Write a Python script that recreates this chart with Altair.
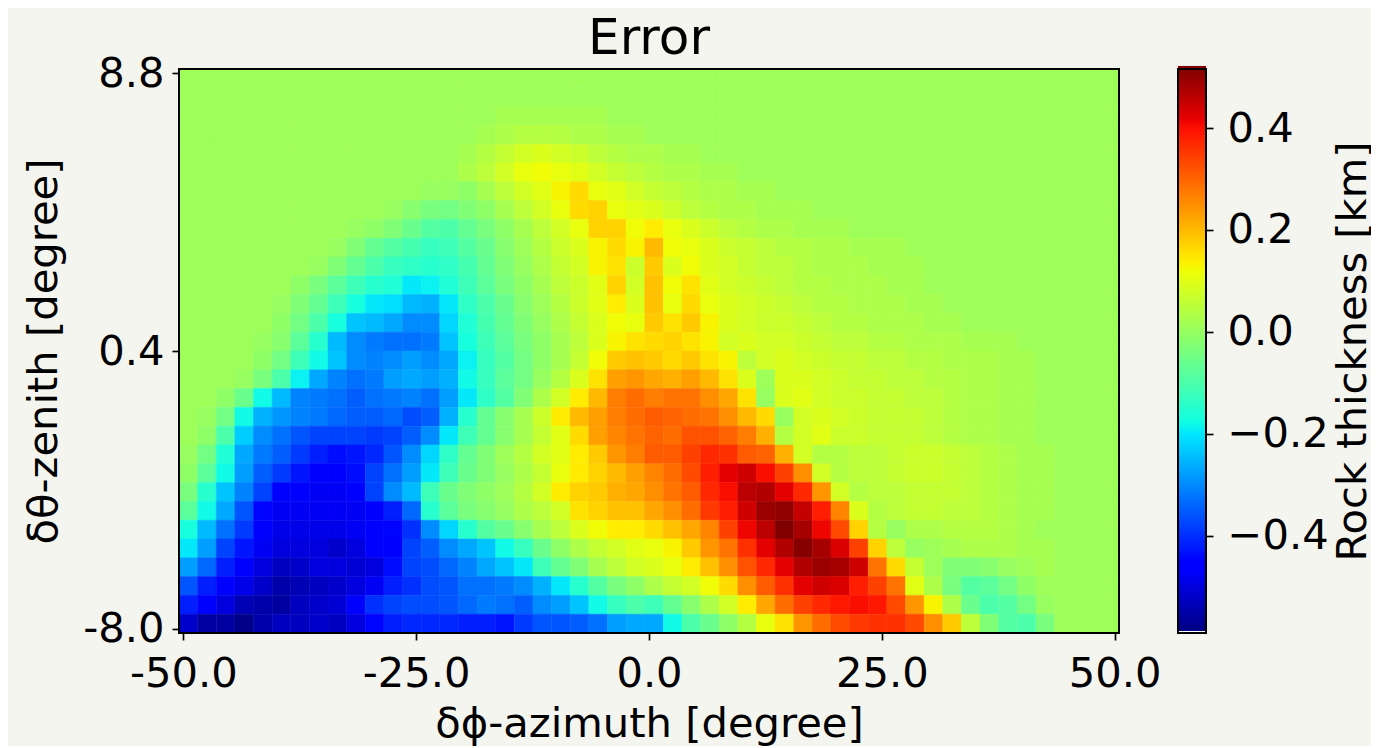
import altair as alt
import numpy as np
import pandas as pd

# Values, in hundredths of a km, top row first, one entry per two degrees
row_00 = [1,1,1,1,1,1,1,1,1,1, 1,1,1,1,1,1,1,1,1,1, 1,1,1,1,1,1,1,1,1,1, 1,1,1,1,1,1,1,1,1,1, 1,1,1,1,1,1,1,1,1,1,1]
row_01 = [1,1,1,1,1,1,1,1,1,1, 1,1,1,1,1,1,1,1,1,1, 1,1,1,1,1,1,1,1,1,1, 1,1,1,1,1,1,1,1,1,1, 1,1,1,1,1,1,1,1,1,1,1]
row_02 = [1,1,1,1,1,1,1,1,1,1, 1,1,1,1,1,1,1,2,2,2, 2,2,2,1,1,1,1,1,1,1, 1,1,1,1,1,1,1,1,1,1, 1,1,1,1,1,1,1,1,1,1,1]
row_03 = [1,1,1,1,1,1,1,1,1,1, 1,1,1,1,1,1,2,3,4,4, 4,3,3,2,2,1,1,1,1,1, 1,1,1,1,1,1,1,1,1,1, 1,1,1,1,1,1,1,1,1,1,1]
row_04 = [1,1,1,1,1,1,1,1,1,1, 1,1,1,1,1,2,4,6,8,9, 8,7,5,4,3,3,2,2,1,1, 1,1,1,1,1,1,1,1,1,1, 1,1,1,1,1,1,1,1,1,1,1]
row_05 = [1,1,1,1,1,1,1,1,1,1, 1,1,1,1,1,3,5,8,11,12, 11,10,8,6,5,4,3,3,2,2, 1,1,1,1,1,1,1,1,1,1, 1,1,1,1,1,1,1,1,1,1,1]
row_06 = [1,1,1,1,1,1,1,1,1,1, 1,1,1,0,0,-1,2,5,8,10, 13,16,11,10,8,6,5,4,3,3, 2,2,1,1,1,1,1,1,1,1, 1,1,1,1,1,1,1,1,1,1,1]
row_07 = [1,1,1,1,1,1,1,1,1,1, 1,0,-2,-4,-5,-3,-1,2,5,8, 11,16,17,11,10,9,7,5,4,3, 3,2,2,2,1,1,1,1,1,1, 1,1,1,1,1,1,1,1,1,1,1]
row_08 = [1,1,1,1,1,1,1,1,1,0, -1,-3,-6,-9,-10,-7,-4,-1,2,5, 8,11,17,17,12,14,11,9,7,5, 4,3,3,2,2,2,1,1,1,1, 1,1,1,1,1,1,1,1,1,1,1]
row_09 = [1,1,1,1,1,1,1,1,0,-3, -7,-9,-11,-13,-12,-9,-6,-2,1,4, 7,9,13,16,13,20,12,11,9,7, 6,5,4,4,3,3,2,2,2,1, 1,1,1,1,1,1,1,1,1,1,1]
row_10 = [1,1,1,1,1,1,1,0,-3,-7, -10,-13,-14,-15,-14,-11,-7,-3,0,3, 6,8,13,15,7,18,9,12,9,8, 6,5,5,4,3,3,3,2,2,2, 1,1,1,1,1,1,1,1,1,1,1]
row_11 = [1,1,1,1,1,1,-1,-4,-8,-12, -15,-16,-20,-19,-16,-12,-8,-4,-1,2, 5,7,10,17,8,19,12,15,10,8, 7,6,5,4,4,3,3,3,2,2, 1,1,1,1,1,1,1,1,1,1,1]
row_12 = [1,1,1,1,1,0,-3,-7,-12,-17, -20,-21,-25,-26,-20,-14,-10,-6,-2,1, 4,7,10,14,9,19,11,16,11,9, 8,7,6,5,4,4,3,3,3,2, 2,1,1,1,1,1,1,1,1,1,1]
row_13 = [1,1,1,1,1,-1,-5,-10,-17,-24, -25,-27,-30,-30,-22,-16,-11,-7,-3,0, 3,6,9,12,11,18,15,18,13,9, 8,7,7,6,5,4,4,3,3,3, 2,2,1,1,1,1,1,1,1,1,1]
row_14 = [1,1,1,1,0,-2,-8,-15,-25,-30, -32,-33,-33,-32,-24,-17,-12,-8,-4,-1, 2,5,9,13,15,16,17,15,13,8, 9,8,8,7,6,5,5,4,4,3, 3,3,2,2,2,1,1,1,1,1,1]
row_15 = [1,1,1,1,-1,-5,-12,-18,-24,-30, -31,-30,-28,-30,-27,-19,-13,-9,-5,-1, 2,6,12,18,19,18,16,18,15,13, 5,8,9,8,7,6,6,5,5,4, 4,3,3,3,2,2,1,1,1,1,1]
row_16 = [1,1,1,0,-4,-10,-19,-27,-31,-33, -32,-28,-27,-28,-26,-18,-13,-8,-5,0, 4,9,15,23,24,22,21,23,20,15, 9,1,9,9,8,7,6,6,5,5, 4,4,3,3,2,2,1,1,1,1,1]
row_17 = [1,1,-1,-6,-18,-25,-31,-32,-33,-35, -33,-32,-31,-33,-28,-20,-14,-9,-3,3, 8,14,20,27,29,27,28,28,25,22, 15,0,9,10,8,7,7,6,6,5, 5,4,3,3,2,2,1,1,1,1,1]
row_18 = [1,0,-5,-18,-26,-29,-31,-32,-34,-35, -35,-34,-37,-35,-26,-15,-7,-2,2,7, 14,20,23,27,29,31,30,29,28,25, 20,16,0,8,9,8,7,6,6,6, 5,4,3,3,2,2,1,1,1,1,1]
row_19 = [1,-1,-10,-23,-30,-33,-36,-38,-38,-38, -39,-38,-35,-30,-20,-12,-7,-2,2,6, 10,16,23,26,28,30,29,32,32,30, 27,21,4,8,10,7,7,6,6,6, 5,4,3,3,2,2,1,1,1,1,1]
row_20 = [0,-5,-16,-27,-32,-35,-39,-42,-44,-43, -41,-36,-30,-22,-14,-7,-3,1,4,8, 10,14,18,24,27,31,31,34,37,36, 31,30,21,8,4,4,5,5,6,7, 7,6,5,4,3,2,2,1,1,1,1]
row_21 = [-1,-8,-18,-28,-35,-39,-43,-46,-47,-44, -38,-33,-28,-20,-12,-6,-3,0,3,6, 11,14,17,20,23,26,29,33,38,42, 44,40,34,25,8,4,5,5,6,7, 7,6,5,4,3,2,2,1,1,1,1]
row_22 = [-4,-15,-24,-31,-38,-46,-47,-48,-48,-46, -38,-30,-25,-12,-6,-3,-1,1,4,8, 14,17,18,21,22,25,28,31,37,40, 46,47,42,37,24,8,4,5,5,6, 6,6,5,4,3,2,2,1,1,1,1]
row_23 = [-8,-18,-27,-36,-45,-48,-48,-48,-48,-48, -46,-42,-34,-15,-8,-4,-2,0,3,5, 8,15,17,19,19,22,25,29,35,38, 44,49,50,45,38,26,9,4,5,6, 6,5,5,4,3,2,2,1,1,1,1]
row_24 = [-17,-25,-33,-39,-46,-49,-49,-49,-49,-48, -47,-45,-40,-30,-22,-15,-9,-6,-2,2, 5,9,12,14,14,16,19,22,26,34, 41,46,52,48,41,33,17,4,0,3, 3,4,4,4,3,2,1,1,1,1,1]
row_25 = [-20,-28,-38,-43,-48,-50,-50,-50,-52,-50, -47,-46,-38,-35,-30,-27,-24,-18,-13,-6, -1,3,6,8,10,11,13,18,24,28, 36,42,47,51,48,43,34,17,5,0, 1,2,3,3,3,2,2,1,1,1,1]
row_26 = [-28,-34,-42,-46,-50,-53,-52,-50,-50,-51, -50,-44,-38,-37,-34,-31,-27,-24,-20,-12, -7,-3,2,5,8,9,11,14,19,25, 32,37,42,47,49,48,44,28,16,6, 1,-3,-3,-2,0,1,2,1,1,1,1]
row_27 = [-36,-42,-47,-49,-52,-55,-54,-53,-52,-50, -48,-42,-40,-37,-36,-33,-33,-32,-30,-26, -20,-15,-9,-4,-1,3,6,8,12,16, 25,31,36,42,44,43,38,34,28,10, 3,-4,-9,-8,-5,-1,1,1,1,1,1]
row_28 = [-42,-47,-50,-54,-55,-56,-53,-52,-51,-47, -40,-38,-37,-37,-36,-34,-32,-33,-35,-30, -28,-24,-18,-13,-10,-12,-7,-2,3,8, 14,22,29,34,37,39,40,39,33,24, 13,3,-6,-10,-9,-5,0,1,1,1,1]
row_29 = [-52,-56,-56,-58,-55,-53,-53,-52,-53,-50, -45,-42,-41,-41,-41,-42,-42,-43,-39,-36, -36,-35,-33,-28,-27,-27,-18,-10,-6,-1, 4,11,15,24,29,33,35,36,36,33, 25,18,5,-3,-9,-10,-4,1,1,1,1]

rows = [row_00, row_01, row_02, row_03, row_04, row_05, row_06, row_07, row_08, row_09,
        row_10, row_11, row_12, row_13, row_14, row_15, row_16, row_17, row_18, row_19,
        row_20, row_21, row_22, row_23, row_24, row_25, row_26, row_27, row_28, row_29]

x_ticks = [-50, -25, 0, 25, 50]
y_ticks = [-8.0, 0.4, 8.8]
bar_ticks = [-0.4, -0.2, 0.0, 0.2, 0.4]
x_dom = [-50.46, 50.46]
y_dom = [-8.13, 8.93]
v_dom = [-0.591, 0.516]

# matplotlib's jet breakpoints
jet_t = [0, .11, .125, .34, .35, .375, .64, .65, .66, .89, .91, 1]
jet_c = ["#000080", "#0000ff", "#0000ff", "#00dbff", "#00e5ff", "#14ffe2",
         "#eeff08", "#f7f500", "#ffec00", "#ff1300", "#e80000", "#800000"]
color_scale = alt.Scale(domain=[v_dom[0] + (v_dom[1] - v_dom[0]) * t for t in jet_t],
                        range=jet_c, interpolate="rgb", clamp=True)

recs = []
ny = len(rows)
dy = (y_dom[1] - y_dom[0]) / ny
for r, row in enumerate(rows):
    assert len(row) == 51, r
    for c, val in enumerate(row):
        x0 = x_dom[0] + 2 * c
        recs.append(dict(x0=x0, x1=min(x0 + 2, x_dom[1]),
                         y1=y_dom[1] - dy * r, y0=y_dom[1] - dy * (r + 1), v=val / 100))
cells = pd.DataFrame(recs)

FONT = "DejaVu Sans"
TICK = 41.67
INK = "#000000"
BG = "#f5f5f0"
hyphen = "replace(format(datum.value, '.1f'), '\u2212', '-')"

heat = alt.Chart(cells).mark_rect(clip=True, strokeWidth=0.5).encode(
    x=alt.X("x0:Q", scale=alt.Scale(domain=x_dom, nice=False, zero=False),
            axis=alt.Axis(values=x_ticks, title="δϕ-azimuth [degree]", labelExpr=hyphen, grid=False,
                          domain=False, tickSize=7, tickWidth=1.67, tickColor=INK,
                          labelFont=FONT, labelFontSize=TICK, labelColor=INK, labelPadding=13,
                          labelFlush=False, labelOverlap=False, labelBound=False,
                          titleFont=FONT, titleFontSize=TICK, titleFontWeight="normal",
                          titleColor=INK, titlePadding=9)),
    x2="x1:Q",
    y=alt.Y("y0:Q", scale=alt.Scale(domain=y_dom, nice=False, zero=False),
            axis=alt.Axis(values=y_ticks, title="δθ-zenith [degree]", labelExpr=hyphen, grid=False,
                          domain=False, tickSize=7, tickWidth=1.67, tickColor=INK,
                          labelFont=FONT, labelFontSize=TICK, labelColor=INK, labelPadding=8,
                          labelOverlap=False, labelBound=False,
                          titleFont=FONT, titleFontSize=TICK, titleFontWeight="normal",
                          titleColor=INK, titlePadding=17)),
    y2="y1:Q",
    color=alt.Color("v:Q", scale=color_scale, legend=None),
    stroke=alt.Stroke("v:Q", scale=color_scale, legend=None),
)
frame = alt.Chart(cells.head(1)).mark_rect(fill=None, stroke=INK, strokeWidth=2, clip=False).encode(
    x=alt.value(0), x2=alt.value(940), y=alt.value(0), y2=alt.value(564))

main = alt.layer(heat, frame).properties(
    width=940, height=564,
    title=alt.TitleParams("Error", font=FONT, fontSize=50, fontWeight="normal", color=INK, offset=-11))

# colour bar
levels = np.linspace(v_dom[0], v_dom[1], 283)
bar_df = pd.DataFrame({"lo": levels[:-1], "hi": levels[1:], "v": levels[:-1], "c": 0, "c2": 1})
bar = alt.Chart(bar_df).mark_rect(strokeWidth=0.5).encode(
    x=alt.X("c:Q", scale=alt.Scale(domain=[0, 1]), axis=None),
    x2="c2:Q",
    y=alt.Y("lo:Q", scale=alt.Scale(domain=v_dom, nice=False, zero=False),
            axis=alt.Axis(orient="right", values=bar_ticks, title="Rock thickness [km]", grid=False,
                          domain=False, tickSize=7, tickWidth=1.67, tickColor=INK,
                          labelExpr="format(datum.value, '.1f')",
                          labelFont=FONT, labelFontSize=TICK, labelColor=INK, labelPadding=14,
                          labelOverlap=False, labelBound=False,
                          titleFont=FONT, titleFontSize=TICK, titleFontWeight="normal",
                          titleAngle=270, titleColor=INK, titlePadding=46)),
    y2="hi:Q",
    color=alt.Color("v:Q", scale=color_scale, legend=None),
    stroke=alt.Stroke("v:Q", scale=color_scale, legend=None),
)
cap_df = pd.DataFrame({"lo": [0.516], "hi": [0.522], "c": [0], "c2": [1]})
cap = alt.Chart(cap_df).mark_rect(color="#800000").encode(
    x=alt.X("c:Q", scale=alt.Scale(domain=[0, 1]), axis=None), x2="c2:Q",
    y=alt.Y("lo:Q", scale=alt.Scale(domain=v_dom, nice=False, zero=False)), y2="hi:Q")
low_df = pd.DataFrame({"lo": [-0.591], "hi": [-0.587], "c": [0], "c2": [1]})
low = alt.Chart(low_df).mark_rect(color="#ffffff").encode(
    x=alt.X("c:Q", scale=alt.Scale(domain=[0, 1]), axis=None), x2="c2:Q",
    y=alt.Y("lo:Q", scale=alt.Scale(domain=v_dom, nice=False, zero=False)), y2="hi:Q")
bar_frame = alt.Chart(cap_df).mark_rect(fill=None, stroke=INK, strokeWidth=2).encode(
    x=alt.value(0), x2=alt.value(28), y=alt.value(0), y2=alt.value(564))
side = alt.layer(bar, cap, low, bar_frame).properties(width=28, height=564)

chart = alt.hconcat(main, side, spacing=15).resolve_scale(color="independent", stroke="independent").properties(
    background=BG, padding={"left": 15, "top": 6, "right": -3, "bottom": 0}
).configure_view(stroke=None)

chart.save("out.html", embed_options={"renderer": "svg", "actions": False})
